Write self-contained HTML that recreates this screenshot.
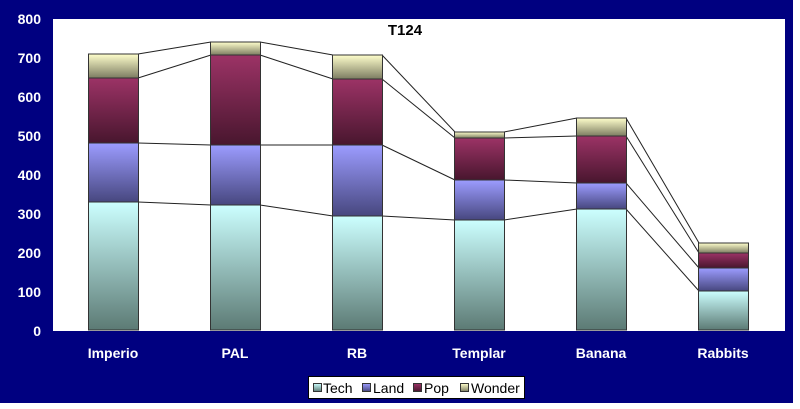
<!DOCTYPE html>
<html><head><style>
body{margin:0;background:#fff;}
svg{display:block;font-family:"Liberation Sans",Arial,sans-serif;}
</style></head><body>
<svg width="800" height="409" xmlns="http://www.w3.org/2000/svg">
<defs>
<linearGradient id="gT" x1="0" y1="0" x2="0" y2="1"><stop offset="0" stop-color="#ccffff"/><stop offset="1" stop-color="#5c7a74"/></linearGradient>
<linearGradient id="gL" x1="0" y1="0" x2="0" y2="1"><stop offset="0" stop-color="#9c9cff"/><stop offset="1" stop-color="#47477f"/></linearGradient>
<linearGradient id="gP" x1="0" y1="0" x2="0" y2="1"><stop offset="0" stop-color="#9c3366"/><stop offset="1" stop-color="#48162e"/></linearGradient>
<linearGradient id="gW" x1="0" y1="0" x2="0" y2="1"><stop offset="0" stop-color="#ffffcc"/><stop offset="1" stop-color="#7d7d62"/></linearGradient>
</defs>
<rect x="0" y="0" width="793" height="403" fill="#000080"/>
<rect x="53" y="19" width="732" height="312" fill="#fff"/>
<g fill="#fff" font-weight="bold" font-size="14" text-anchor="end">
<text x="41" y="24">800</text><text x="41" y="63">700</text><text x="41" y="102">600</text><text x="41" y="141">500</text>
<text x="41" y="180">400</text><text x="41" y="219">300</text><text x="41" y="258">200</text><text x="41" y="297">100</text><text x="41" y="336">0</text>
</g>
<text x="405" y="35" font-size="15" font-weight="bold" text-anchor="middle" fill="#000">T124</text>
<g stroke="#222" stroke-width="1" fill="none">
<polyline points="138,202 211,205"/><polyline points="260,205 333,216"/><polyline points="382,216 455,220"/><polyline points="504,220 577,209"/><polyline points="626,209 699,291"/>
<polyline points="138,143 211,145"/><polyline points="260,145 333,145"/><polyline points="382,145 455,180"/><polyline points="504,180 577,183"/><polyline points="626,183 699,268"/>
<polyline points="138,78 211,55"/><polyline points="260,55 333,79"/><polyline points="382,79 455,138"/><polyline points="504,138 577,136"/><polyline points="626,136 699,253"/>
<polyline points="138,54 211,42"/><polyline points="260,42 333,55"/><polyline points="382,55 455,132"/><polyline points="504,132 577,118"/><polyline points="626,118 699,243"/>
</g>
<g stroke="#333" stroke-width="1">
<!-- Imperio -->
<rect x="88.5" y="202" width="50" height="128" fill="url(#gT)"/><rect x="88.5" y="143" width="50" height="59" fill="url(#gL)"/><rect x="88.5" y="78" width="50" height="65" fill="url(#gP)"/><rect x="88.5" y="54" width="50" height="24" fill="url(#gW)"/>
<!-- PAL -->
<rect x="210.5" y="205" width="50" height="125" fill="url(#gT)"/><rect x="210.5" y="145" width="50" height="60" fill="url(#gL)"/><rect x="210.5" y="55" width="50" height="90" fill="url(#gP)"/><rect x="210.5" y="42" width="50" height="13" fill="url(#gW)"/>
<!-- RB -->
<rect x="332.5" y="216" width="50" height="114" fill="url(#gT)"/><rect x="332.5" y="145" width="50" height="71" fill="url(#gL)"/><rect x="332.5" y="79" width="50" height="66" fill="url(#gP)"/><rect x="332.5" y="55" width="50" height="24" fill="url(#gW)"/>
<!-- Templar -->
<rect x="454.5" y="220" width="50" height="110" fill="url(#gT)"/><rect x="454.5" y="180" width="50" height="40" fill="url(#gL)"/><rect x="454.5" y="138" width="50" height="42" fill="url(#gP)"/><rect x="454.5" y="132" width="50" height="6" fill="url(#gW)"/>
<!-- Banana -->
<rect x="576.5" y="209" width="50" height="121" fill="url(#gT)"/><rect x="576.5" y="183" width="50" height="26" fill="url(#gL)"/><rect x="576.5" y="136" width="50" height="47" fill="url(#gP)"/><rect x="576.5" y="118" width="50" height="18" fill="url(#gW)"/>
<!-- Rabbits -->
<rect x="698.5" y="291" width="50" height="39" fill="url(#gT)"/><rect x="698.5" y="268" width="50" height="23" fill="url(#gL)"/><rect x="698.5" y="253" width="50" height="15" fill="url(#gP)"/><rect x="698.5" y="243" width="50" height="10" fill="url(#gW)"/>
</g>
<g fill="#fff" font-weight="bold" font-size="14" text-anchor="middle">
<text x="113" y="358">Imperio</text><text x="235" y="358">PAL</text><text x="357" y="358">RB</text><text x="479" y="358">Templar</text><text x="601" y="358">Banana</text><text x="723" y="358">Rabbits</text>
</g>
<rect x="308.5" y="376.5" width="216" height="22" fill="#fff" stroke="#000"/>
<g stroke="#333" stroke-width="1">
<rect x="313.5" y="383.5" width="8" height="8" fill="url(#gT)"/>
<rect x="362.5" y="383.5" width="8" height="8" fill="url(#gL)"/>
<rect x="413.5" y="383.5" width="8" height="8" fill="url(#gP)"/>
<rect x="460.5" y="383.5" width="8" height="8" fill="url(#gW)"/>
</g>
<g font-size="14" fill="#000">
<text x="323" y="393">Tech</text><text x="373" y="393">Land</text><text x="424" y="393">Pop</text><text x="471" y="393">Wonder</text>
</g>
</svg>
</body></html>
